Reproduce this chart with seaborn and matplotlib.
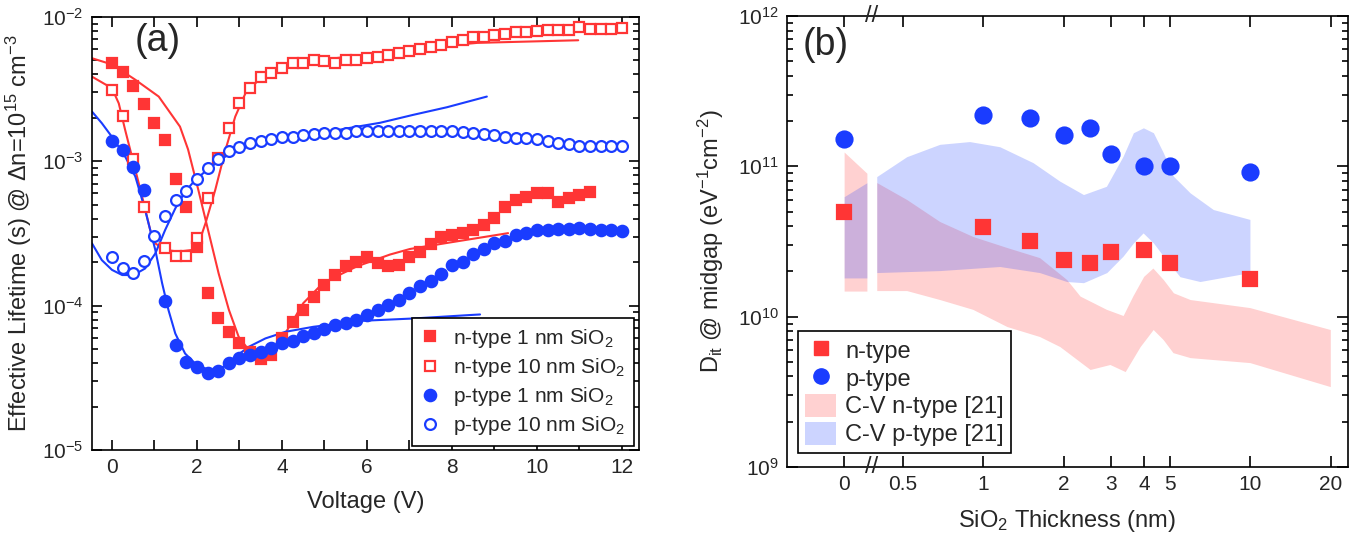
import numpy as np
import pandas as pd
import matplotlib
matplotlib.use("Agg")
import matplotlib.pyplot as plt
import matplotlib.ticker as mticker
from matplotlib.lines import Line2D
from matplotlib.patches import Patch
import seaborn as sns

# ---------------- data: panel (a) ----------------
V_n1 = [0, 0.25, 0.5, 0.75, 1.0, 1.25, 1.5, 1.75, 2.0, 2.25, 2.5, 2.75, 3.0, 3.25, 3.5, 3.75,
        4.0, 4.25, 4.5, 4.75, 5.0, 5.25, 5.5, 5.75, 6.0, 6.25, 6.5, 6.75, 7.0, 7.25, 7.5, 7.75,
        8.0, 8.25, 8.5, 8.75, 9.0, 9.25, 9.5, 9.75, 10.0, 10.25, 10.5, 10.75, 11.0, 11.25]
tau_n1 = [4.78e-3, 4.19e-3, 3.30e-3, 2.50e-3, 1.85e-3, 1.41e-3, 7.5e-4, 4.8e-4, 2.56e-4, 1.23e-4,
          8.15e-5, 6.6e-5, 5.47e-5, 4.79e-5, 4.3e-5, 4.54e-5, 5.93e-5, 7.73e-5, 9.37e-5, 1.15e-4,
          1.40e-4, 1.63e-4, 1.88e-4, 2.01e-4, 2.18e-4, 1.96e-4, 1.88e-4, 1.91e-4, 2.16e-4, 2.36e-4,
          2.66e-4, 2.97e-4, 3.09e-4, 3.17e-4, 3.34e-4, 3.62e-4, 4.02e-4, 4.85e-4, 5.4e-4, 5.69e-4,
          6.0e-4, 6.0e-4, 5.25e-4, 5.54e-4, 5.85e-4, 6.16e-4]

V_n10 = [0, 0.25, 0.5, 0.75, 1.25, 1.5, 1.75, 2.0, 2.25, 2.5, 2.75, 3.0, 3.25, 3.5, 3.75,
         4.0, 4.25, 4.5, 4.75, 5.0, 5.25, 5.5, 5.75, 6.0, 6.25, 6.5, 6.75, 7.0, 7.25, 7.5, 7.75,
         8.0, 8.25, 8.5, 8.75, 9.0, 9.25, 9.5, 9.75, 10.0, 10.25, 10.5, 10.75, 11.0, 11.25, 11.5,
         11.75, 12.0]
tau_n10 = [3.13e-3, 2.07e-3, 1.03e-3, 4.8e-4, 2.52e-4, 2.21e-4, 2.21e-4, 2.92e-4, 5.6e-4, 1.05e-3,
           1.71e-3, 2.55e-3, 3.21e-3, 3.87e-3, 4.08e-3, 4.42e-3, 4.78e-3, 4.83e-3, 5.05e-3, 4.99e-3,
           4.83e-3, 5.05e-3, 5.05e-3, 5.18e-3, 5.32e-3, 5.47e-3, 5.61e-3, 5.83e-3, 5.98e-3, 6.24e-3,
           6.41e-3, 6.76e-3, 6.95e-3, 7.24e-3, 7.32e-3, 7.53e-3, 7.64e-3, 7.81e-3, 7.89e-3, 7.97e-3,
           8.15e-3, 8.15e-3, 8.15e-3, 8.59e-3, 8.23e-3, 8.23e-3, 8.23e-3, 8.36e-3]

V_p1 = [0, 0.25, 0.5, 0.75, 1.25, 1.5, 1.75, 2.0, 2.25, 2.5, 2.75, 3.0, 3.25, 3.5, 3.75,
        4.0, 4.25, 4.5, 4.75, 5.0, 5.25, 5.5, 5.75, 6.0, 6.25, 6.5, 6.75, 7.0, 7.25, 7.5, 7.75,
        8.0, 8.25, 8.5, 8.75, 9.0, 9.25, 9.5, 9.75, 10.0, 10.25, 10.5, 10.75, 11.0, 11.25, 11.5,
        11.75, 12.0]
tau_p1 = [1.39e-3, 1.19e-3, 9.19e-4, 6.33e-4, 1.08e-4, 5.33e-5, 4.08e-5, 3.73e-5, 3.42e-5, 3.54e-5,
          4.02e-5, 4.37e-5, 4.54e-5, 4.79e-5, 5.05e-5, 5.5e-5, 5.71e-5, 6.15e-5, 6.48e-5, 6.84e-5,
          7.33e-5, 7.60e-5, 8.01e-5, 8.6e-5, 9.31e-5, 1.01e-4, 1.10e-4, 1.23e-4, 1.37e-4, 1.49e-4,
          1.66e-4, 1.91e-4, 2.01e-4, 2.28e-4, 2.45e-4, 2.70e-4, 2.82e-4, 3.09e-4, 3.21e-4, 3.34e-4,
          3.34e-4, 3.38e-4, 3.38e-4, 3.43e-4, 3.38e-4, 3.34e-4, 3.34e-4, 3.30e-4]

V_p10 = [0, 0.25, 0.5, 0.75, 1.0, 1.25, 1.5, 1.75, 2.0, 2.25, 2.5, 2.75, 3.0, 3.25, 3.5, 3.75,
         4.0, 4.25, 4.5, 4.75, 5.0, 5.25, 5.5, 5.75, 6.0, 6.25, 6.5, 6.75, 7.0, 7.25, 7.5, 7.75,
         8.0, 8.25, 8.5, 8.75, 9.0, 9.25, 9.5, 9.75, 10.0, 10.25, 10.5, 10.75, 11.0, 11.25, 11.5,
         11.75, 12.0]
tau_p10 = [2.16e-4, 1.81e-4, 1.69e-4, 2.05e-4, 3.04e-4, 4.2e-4, 5.4e-4, 6.27e-4, 7.5e-4, 8.94e-4,
           1.03e-3, 1.17e-3, 1.25e-3, 1.33e-3, 1.39e-3, 1.42e-3, 1.47e-3, 1.48e-3, 1.52e-3, 1.55e-3,
           1.56e-3, 1.58e-3, 1.58e-3, 1.61e-3, 1.61e-3, 1.63e-3, 1.63e-3, 1.63e-3, 1.63e-3, 1.63e-3,
           1.63e-3, 1.61e-3, 1.61e-3, 1.59e-3, 1.56e-3, 1.55e-3, 1.52e-3, 1.48e-3, 1.44e-3, 1.44e-3,
           1.42e-3, 1.39e-3, 1.35e-3, 1.32e-3, 1.28e-3, 1.27e-3, 1.28e-3, 1.28e-3, 1.28e-3]

# model fits (solid lines)
fitV_n1a = [-0.47, 0.0, 0.54, 1.10, 1.60, 1.79, 2.03, 2.28, 2.51, 2.75, 2.98, 3.22]
fit_n1a = [5.18e-3, 4.69e-3, 3.69e-3, 2.81e-3, 1.74e-3, 1.21e-3, 6.37e-4, 3.17e-4, 1.67e-4,
           9.37e-5, 6.09e-5, 4.92e-5]
fitV_n1b = [4.03, 4.27, 4.50, 4.97, 5.76, 6.54, 7.01, 7.95, 9.32]
fit_n1b = [6.11e-5, 7.98e-5, 1.04e-4, 1.44e-4, 1.87e-4, 2.26e-4, 2.47e-4, 2.74e-4, 3.18e-4]

fitV_n10 = [-0.47, 0.0, 0.16, 0.31, 0.51, 0.71, 0.90, 1.02, 1.25, 1.57, 1.88, 2.04, 2.20, 2.43,
            2.67, 2.90, 3.14, 3.45, 3.92, 4.24, 6.0, 8.07, 8.6, 10.97]
fit_n10 = [3.86e-3, 3.21e-3, 2.52e-3, 1.65e-3, 9.69e-4, 5.69e-4, 3.34e-4, 2.70e-4, 2.43e-4,
           2.37e-4, 2.43e-4, 2.70e-4, 3.72e-4, 6.34e-4, 1.20e-3, 2.04e-3, 2.96e-3, 3.66e-3,
           4.30e-3, 4.78e-3, 5.5e-3, 6.41e-3, 6.62e-3, 6.90e-3]

fitV_p1 = [-0.47, -0.24, 0.02, 0.31, 0.55, 0.78, 1.02, 1.18, 1.33, 1.49, 1.72, 1.96, 2.28, 2.51,
           2.67, 2.90, 3.22, 3.61, 4.08, 4.74, 5.91, 7.09, 8.42, 8.66]
fit_p1 = [2.21e-3, 1.84e-3, 1.45e-3, 1.08e-3, 7.84e-4, 4.60e-4, 2.43e-4, 1.43e-4, 9.31e-5,
          6.41e-5, 4.66e-5, 3.97e-5, 3.57e-5, 3.57e-5, 3.87e-5, 4.42e-5, 5.19e-5, 5.93e-5,
          6.59e-5, 7.14e-5, 7.86e-5, 8.15e-5, 8.61e-5, 8.69e-5]

fitV_p10 = [-0.47, -0.24, 0.0, 0.24, 0.51, 0.78, 1.02, 1.25, 1.49, 1.72, 1.96, 2.28, 2.67, 3.06,
            3.61, 4.24, 5.52, 6.31, 7.09, 7.88, 8.82]
fit_p10 = [2.70e-4, 2.07e-4, 1.77e-4, 1.63e-4, 1.63e-4, 1.81e-4, 2.30e-4, 3.34e-4, 4.72e-4,
           6.16e-4, 7.43e-4, 8.94e-4, 1.08e-3, 1.23e-3, 1.35e-3, 1.44e-3, 1.69e-3, 1.85e-3,
           2.10e-3, 2.37e-3, 2.81e-3]

legend_a = ["n-type 1 nm SiO$_2$", "n-type 10 nm SiO$_2$", "p-type 1 nm SiO$_2$", "p-type 10 nm SiO$_2$"]

# ---------------- data: panel (b) ----------------
thick = [0, 1, 1.5, 2, 2.5, 3, 4, 5, 10]
Dit_n = [4.97e10, 3.95e10, 3.18e10, 2.38e10, 2.27e10, 2.69e10, 2.77e10, 2.27e10, 1.78e10]
Dit_p = [1.51e11, 2.19e11, 2.11e11, 1.61e11, 1.81e11, 1.20e11, 1.00e11, 1.00e11, 9.1e10]

# C-V bands, segment at 0 nm
cv0_x = [0, 0.275]
cvn0_lo = [1.48e10, 1.48e10]
cvn0_hi = [1.245e11, 9.0e10]
cvp0_lo = [1.81e10, 1.81e10]
cvp0_hi = [6.28e10, 7.78e10]

# C-V n-type band (>= 0.4 nm)
cvn_top_x = [0.40, 0.518, 0.689, 0.916, 1.23, 1.63, 2.06, 2.31, 2.90, 3.35, 3.64, 4.0, 4.33,
             4.74, 5.17, 5.97, 10.0, 20.0]
cvn_top_y = [7.74e10, 5.97e10, 4.26e10, 3.39e10, 2.86e10, 2.45e10, 1.75e10, 1.36e10, 1.11e10,
             1.01e10, 1.36e10, 1.84e10, 2.09e10, 1.75e10, 1.43e10, 1.29e10, 1.14e10, 8.15e9]
cvn_bot_x = [0.40, 0.518, 0.689, 0.916, 1.23, 1.63, 1.94, 2.52, 2.99, 3.41, 3.88, 4.34, 4.73,
             5.15, 5.97, 10.0, 20.0]
cvn_bot_y = [1.48e10, 1.48e10, 1.29e10, 1.11e10, 8.53e9, 7.32e9, 6.28e9, 4.42e9, 4.77e9, 4.28e9,
             6.28e9, 8.15e9, 6.99e9, 5.72e9, 5.30e9, 4.91e9, 3.40e9]

# C-V p-type band (0.4 - 10 nm)
cvp_top_x = [0.40, 0.518, 0.689, 0.891, 1.156, 1.54, 1.94, 2.38, 2.90, 3.35, 3.66, 3.99, 4.35,
             4.74, 5.17, 5.97, 7.29, 10.0]
cvp_top_y = [8.48e10, 1.15e11, 1.39e11, 1.45e11, 1.34e11, 1.05e11, 7.91e10, 6.44e10, 7.31e10,
             1.16e11, 1.66e11, 1.79e11, 1.66e11, 1.22e11, 8.53e10, 6.61e10, 5.12e10, 4.40e10]
cvp_bot_x = [0.40, 0.689, 1.156, 1.63, 2.06, 2.38, 2.91, 3.35, 3.66, 3.98, 4.35, 4.74, 5.47,
             6.50, 10.0]
cvp_bot_y = [1.95e10, 2.01e10, 2.14e10, 1.95e10, 1.70e10, 1.67e10, 1.95e10, 2.51e10, 3.07e10,
             3.58e10, 3.07e10, 2.51e10, 1.83e10, 1.70e10, 1.95e10]

thick_ticks = [0, 0.5, 1, 2, 3, 4, 5, 10, 20]
thick_ticklabels = ["0", "0.5", "1", "2", "3", "4", "5", "10", "20"]
legend_b = ["n-type", "p-type", "C-V n-type [21]", "C-V p-type [21]"]

# ---------------- style ----------------
sns.set_theme(style="ticks")
plt.rcParams["font.family"] = ["Liberation Sans", "DejaVu Sans"]
plt.rcParams["mathtext.default"] = "regular"
plt.rcParams["axes.edgecolor"] = "black"
plt.rcParams["axes.linewidth"] = 1.2

RED = "#FF3535"
BLUE = "#1A3CFF"
PINK = (1.0, 0.82, 0.82)
LBLUE = (0.80, 0.83, 1.0)

fig = plt.figure(figsize=(13.55, 5.43), dpi=100)
axa = fig.add_axes([92 / 1355, 1 - 450 / 543, 547 / 1355, 433 / 543])
axb = fig.add_axes([787 / 1355, 1 - 467 / 543, 561 / 1355, 451 / 543])

# ---------------- panel (a) ----------------
def pts(ax, x, y, marker, ms, filled, color):
    sns.lineplot(x=x, y=y, ax=ax, estimator=None, sort=False, linestyle="", marker=marker,
                 markersize=ms, markerfacecolor=color if filled else "white",
                 markeredgecolor=color, markeredgewidth=1.6, color=color, zorder=3)

def fit(ax, x, y, color):
    sns.lineplot(x=x, y=y, ax=ax, estimator=None, sort=False, color=color, linewidth=1.5, zorder=2)

axa.set_yscale("log")
fit(axa, fitV_n1a, fit_n1a, RED)
fit(axa, fitV_n1b, fit_n1b, RED)
fit(axa, fitV_n10, fit_n10, RED)
fit(axa, fitV_p1, fit_p1, BLUE)
fit(axa, fitV_p10, fit_p10, BLUE)
pts(axa, V_n1, tau_n1, "s", 7.2, True, RED)
pts(axa, V_n10, tau_n10, "s", 6.8, False, RED)
pts(axa, V_p1, tau_p1, "o", 8.2, True, BLUE)
pts(axa, V_p10, tau_p10, "o", 7.8, False, BLUE)

axa.set_xlim(-0.47, 12.4)
axa.set_ylim(1e-5, 1e-2)
axa.xaxis.set_major_locator(mticker.MultipleLocator(2))
axa.xaxis.set_minor_locator(mticker.MultipleLocator(1))
axa.yaxis.set_major_locator(mticker.LogLocator(base=10, numticks=10))
axa.yaxis.set_minor_locator(mticker.LogLocator(base=10, subs=np.arange(2, 10), numticks=20))
axa.yaxis.set_minor_formatter(mticker.NullFormatter())
axa.tick_params(which="both", direction="in", top=True, right=True, color="black", width=1.2)
axa.tick_params(which="major", length=7, labelsize=15, pad=6)
axa.tick_params(axis="x", which="minor", length=7)
axa.tick_params(axis="y", which="minor", length=4)
axa.set_xlabel("Voltage (V)", fontsize=17, labelpad=10)
axa.set_ylabel("Effective Lifetime (s) @ \u0394n=10$^{15}$ cm$^{-3}$", fontsize=17, labelpad=6)
axa.text(0.078, 0.985, "(a)", transform=axa.transAxes, fontsize=27, ha="left", va="top")

hand_a = [
    Line2D([], [], ls="", marker="s", ms=7.2, mfc=RED, mec=RED, mew=1.6),
    Line2D([], [], ls="", marker="s", ms=6.8, mfc="white", mec=RED, mew=1.6),
    Line2D([], [], ls="", marker="o", ms=8.2, mfc=BLUE, mec=BLUE, mew=1.6),
    Line2D([], [], ls="", marker="o", ms=7.8, mfc="white", mec=BLUE, mew=1.6),
]
lga = axa.legend(hand_a, legend_a, loc="lower right", bbox_to_anchor=(0.99, 0.01), fontsize=15,
                 frameon=True, fancybox=False, edgecolor="black", framealpha=1,
                 handlelength=1.0, handletextpad=0.6, labelspacing=0.3, borderpad=0.4,
                 borderaxespad=0.0)
lga.get_frame().set_linewidth(1.2)

# ---------------- panel (b) ----------------
BRK = 0.4
X0 = -0.522
SLOPE = (np.log10(BRK) - X0) / BRK

def fwd(x):
    x = np.asarray(x, dtype=float)
    lin = X0 + SLOPE * x
    lg = np.log10(np.clip(x, BRK, None))
    return np.where(x < BRK, lin, lg)

def inv(p):
    p = np.asarray(p, dtype=float)
    pb = np.log10(BRK)
    lin = (p - X0) / SLOPE
    ex = 10.0 ** np.clip(p, pb, None)
    return np.where(p < pb, lin, ex)

axb.set_xscale("function", functions=(fwd, inv))
axb.set_yscale("log")

axb.fill_between(cv0_x, cvn0_lo, cvn0_hi, color=PINK, lw=0, zorder=1)
axb.fill(list(cvn_top_x) + list(cvn_bot_x[::-1]), list(cvn_top_y) + list(cvn_bot_y[::-1]),
         color=PINK, lw=0, zorder=1)
axb.fill_between(cv0_x, cvp0_lo, cvp0_hi, color=BLUE, alpha=0.22, lw=0, zorder=1.5)
axb.fill(list(cvp_top_x) + list(cvp_bot_x[::-1]), list(cvp_top_y) + list(cvp_bot_y[::-1]),
         color=BLUE, alpha=0.22, lw=0, zorder=1.5)

pts(axb, thick, Dit_n, "s", 10.5, True, RED)
pts(axb, thick, Dit_p, "o", 11.5, True, BLUE)

axb.set_xlim(-0.69, 23.2)
axb.set_ylim(1e9, 1e12)
axb.xaxis.set_major_locator(mticker.FixedLocator(thick_ticks))
axb.xaxis.set_major_formatter(mticker.FixedFormatter(thick_ticklabels))
axb.xaxis.set_minor_locator(mticker.NullLocator())
axb.yaxis.set_major_locator(mticker.LogLocator(base=10, numticks=10))
axb.yaxis.set_minor_locator(mticker.LogLocator(base=10, subs=np.arange(2, 10), numticks=20))
axb.yaxis.set_minor_formatter(mticker.NullFormatter())
axb.tick_params(which="both", direction="in", top=True, right=True, color="black", width=1.2)
axb.tick_params(which="major", length=8, labelsize=15, pad=6)
axb.tick_params(which="minor", length=4)
axb.set_xlabel("SiO$_2$ Thickness (nm)", fontsize=17, labelpad=10)
axb.set_ylabel("D$_{it}$ @ midgap (eV$^{-1}$cm$^{-2}$)", fontsize=17, labelpad=8)
axb.text(0.027, 0.975, "(b)", transform=axb.transAxes, fontsize=27, ha="left", va="top")

# axis-break marks
for yy in (0.0, 1.0):
    axb.text(0.1515, yy, "//", transform=axb.transAxes, fontsize=17, ha="center", va="center",
             clip_on=False, zorder=5)

hand_b = [
    Line2D([], [], ls="", marker="s", ms=10, mfc=RED, mec=RED),
    Line2D([], [], ls="", marker="o", ms=11, mfc=BLUE, mec=BLUE),
    Patch(facecolor=PINK, edgecolor="none"),
    Patch(facecolor=LBLUE, edgecolor="none"),
]
lgb = axb.legend(hand_b, legend_b, loc="lower left", bbox_to_anchor=(0.02, 0.03), fontsize=17,
                 frameon=True, fancybox=False, edgecolor="black", framealpha=1,
                 handlelength=1.3, handleheight=1.1, handletextpad=0.4, labelspacing=0.15,
                 borderpad=0.3, borderaxespad=0.0)
lgb.get_frame().set_linewidth(1.2)

fig.savefig("out.png", dpi=100)
